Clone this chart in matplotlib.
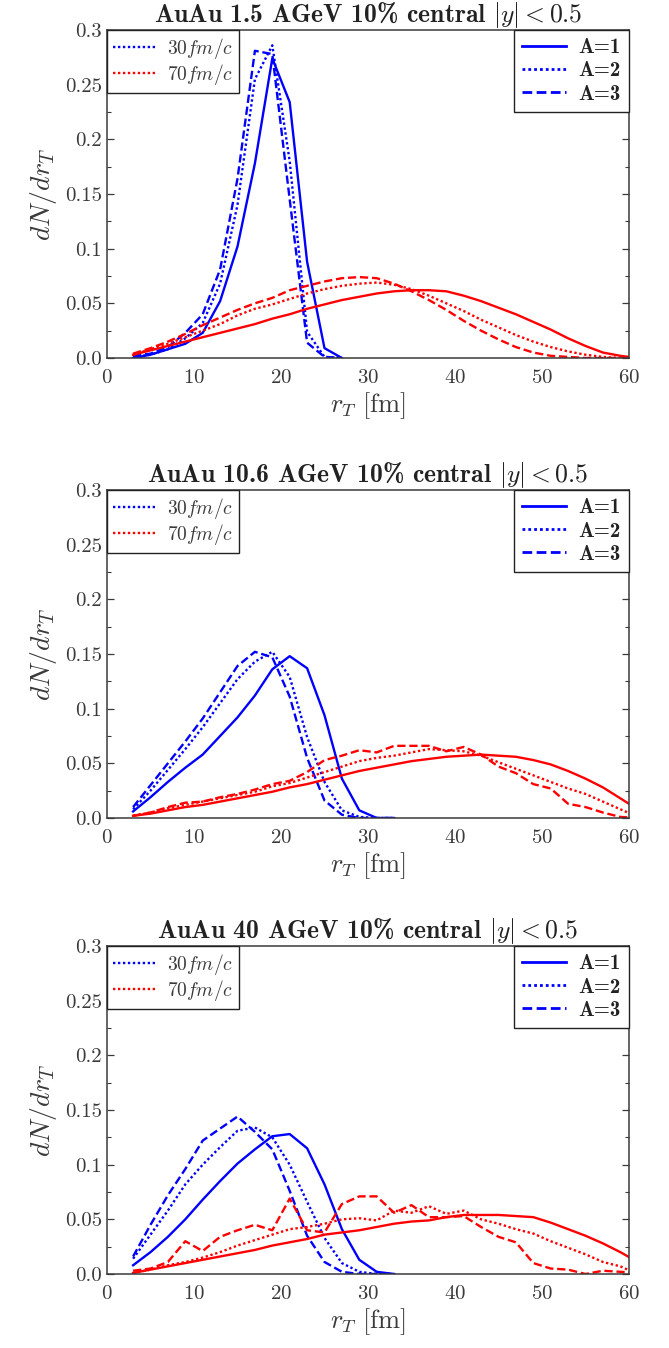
import matplotlib
matplotlib.use("Agg")
import matplotlib.pyplot as plt
from matplotlib.lines import Line2D
from matplotlib.ticker import MultipleLocator, FixedLocator, FixedFormatter

plt.rcParams["mathtext.fontset"] = "cm"
plt.rcParams["font.family"] = ["serif"]
plt.rcParams["font.serif"] = ["cmr10", "DejaVu Serif"]
plt.rcParams["axes.formatter.use_mathtext"] = True

# ---------------- data ----------------
titles = [
    r"AuAu 1.5 AGeV 10% central $|y|<0.5$",
    r"AuAu 10.6 AGeV 10% central $|y|<0.5$",
    r"AuAu 40 AGeV 10% central $|y|<0.5$",
]

# transverse radius bins [fm]
r_late = [3, 5, 7, 9, 11, 13, 15, 17, 19, 21, 23, 25, 27, 29, 31, 33, 35, 37,
          39, 41, 43, 45, 47, 49, 51, 53, 55, 57, 59, 61]
r_early_15 = [3, 5, 7, 9, 11, 13, 15, 17, 19, 21, 23, 25, 27]
r_early = [3, 5, 7, 9, 11, 13, 15, 17, 19, 21, 23, 25, 27, 29, 31, 33]

# AuAu 1.5 AGeV, 30 fm/c
e15_a1 = [0.000, 0.003, 0.008, 0.013, 0.023, 0.052, 0.102, 0.178, 0.274, 0.234, 0.088, 0.009, 0.000]
e15_a2 = [0.001, 0.003, 0.008, 0.018, 0.032, 0.068, 0.140, 0.255, 0.286, 0.180, 0.024, 0.001, 0.000]
e15_a3 = [0.002, 0.004, 0.010, 0.023, 0.040, 0.081, 0.164, 0.281, 0.278, 0.145, 0.014, 0.001, 0.000]
# AuAu 1.5 AGeV, 70 fm/c
l15_a1 = [0.003, 0.007, 0.011, 0.015, 0.019, 0.023, 0.027, 0.031, 0.036, 0.040, 0.045, 0.049, 0.053,
          0.056, 0.059, 0.061, 0.062, 0.062, 0.061, 0.057, 0.052, 0.046, 0.040, 0.033, 0.026, 0.018,
          0.011, 0.005, 0.002, 0.000]
l15_a2 = [0.003, 0.008, 0.013, 0.019, 0.025, 0.031, 0.039, 0.045, 0.049, 0.054, 0.059, 0.063, 0.066,
          0.068, 0.069, 0.067, 0.063, 0.057, 0.050, 0.043, 0.035, 0.028, 0.021, 0.015, 0.010, 0.006,
          0.003, 0.001, 0.000, 0.000]
l15_a3 = [0.004, 0.009, 0.015, 0.022, 0.030, 0.037, 0.044, 0.050, 0.055, 0.062, 0.066, 0.070, 0.073,
          0.074, 0.073, 0.068, 0.061, 0.053, 0.044, 0.034, 0.025, 0.017, 0.010, 0.005, 0.002, 0.001,
          0.000, 0.000, 0.000, 0.000]

# AuAu 10.6 AGeV, 30 fm/c
e106_a1 = [0.006, 0.019, 0.033, 0.046, 0.058, 0.075, 0.092, 0.112, 0.136, 0.148, 0.137, 0.094, 0.036, 0.007, 0.000, 0.000]
e106_a2 = [0.008, 0.025, 0.044, 0.063, 0.083, 0.105, 0.127, 0.143, 0.152, 0.129, 0.074, 0.033, 0.007, 0.001, 0.000, 0.000]
e106_a3 = [0.010, 0.030, 0.050, 0.070, 0.091, 0.115, 0.139, 0.152, 0.147, 0.111, 0.055, 0.016, 0.003, 0.000, 0.000, 0.000]
# AuAu 10.6 AGeV, 70 fm/c
l106_a1 = [0.002, 0.004, 0.007, 0.010, 0.012, 0.015, 0.018, 0.021, 0.024, 0.028, 0.031, 0.035, 0.039,
           0.043, 0.046, 0.049, 0.052, 0.054, 0.056, 0.057, 0.058, 0.057, 0.056, 0.053, 0.049, 0.043,
           0.036, 0.028, 0.018, 0.008]
l106_a2 = [0.002, 0.005, 0.009, 0.012, 0.015, 0.018, 0.021, 0.024, 0.029, 0.032, 0.037, 0.042, 0.047,
           0.052, 0.055, 0.057, 0.060, 0.063, 0.062, 0.061, 0.057, 0.051, 0.045, 0.039, 0.033, 0.027,
           0.022, 0.015, 0.008, 0.001]
l106_a3 = [0.002, 0.005, 0.010, 0.014, 0.015, 0.019, 0.022, 0.026, 0.031, 0.034, 0.042, 0.053, 0.057,
           0.062, 0.060, 0.066, 0.066, 0.066, 0.061, 0.065, 0.058, 0.047, 0.041, 0.031, 0.027, 0.013,
           0.010, 0.005, 0.001, 0.000]

# AuAu 40 AGeV, 30 fm/c
e40_a1 = [0.008, 0.020, 0.034, 0.050, 0.068, 0.085, 0.101, 0.114, 0.126, 0.128, 0.115, 0.082, 0.041, 0.013, 0.002, 0.000]
e40_a2 = [0.014, 0.036, 0.058, 0.082, 0.100, 0.116, 0.131, 0.134, 0.125, 0.100, 0.066, 0.033, 0.010, 0.002, 0.000, 0.000]
e40_a3 = [0.016, 0.045, 0.072, 0.096, 0.122, 0.133, 0.144, 0.130, 0.114, 0.076, 0.035, 0.011, 0.002, 0.000, 0.000, 0.000]
# AuAu 40 AGeV, 70 fm/c
l40_a1 = [0.001, 0.004, 0.007, 0.010, 0.013, 0.016, 0.019, 0.022, 0.026, 0.029, 0.032, 0.036, 0.038,
          0.040, 0.043, 0.046, 0.048, 0.049, 0.052, 0.054, 0.054, 0.054, 0.053, 0.052, 0.047, 0.041,
          0.035, 0.028, 0.020, 0.011]
l40_a2 = [0.001, 0.004, 0.008, 0.011, 0.015, 0.020, 0.026, 0.031, 0.036, 0.041, 0.043, 0.046, 0.050,
          0.051, 0.049, 0.058, 0.056, 0.062, 0.055, 0.058, 0.050, 0.046, 0.041, 0.037, 0.030, 0.024,
          0.018, 0.011, 0.007, 0.000]
l40_a3 = [0.003, 0.005, 0.011, 0.030, 0.021, 0.034, 0.040, 0.045, 0.040, 0.069, 0.040, 0.038, 0.064,
          0.071, 0.071, 0.056, 0.063, 0.052, 0.052, 0.053, 0.043, 0.034, 0.029, 0.010, 0.005, 0.004,
          0.000, 0.003, 0.002, 0.001]

panels = [
    (r_early_15, [e15_a1, e15_a2, e15_a3], [l15_a1, l15_a2, l15_a3]),
    (r_early, [e106_a1, e106_a2, e106_a3], [l106_a1, l106_a2, l106_a3]),
    (r_early, [e40_a1, e40_a2, e40_a3], [l40_a1, l40_a2, l40_a3]),
]

y_ticks = [0.0, 0.05, 0.1, 0.15, 0.2, 0.25, 0.3]
y_ticklabels = ["0.0", "0.05", "0.1", "0.15", "0.2", "0.25", "0.3"]
x_ticks = [0, 10, 20, 30, 40, 50, 60]
time_labels = [r"$30fm/c$", r"$70fm/c$"]
mass_labels = ["A=1", "A=2", "A=3"]

# ---------------- figure ----------------
W, H = 669, 1348
fig = plt.figure(figsize=(W / 100, H / 100), dpi=100)

styles = ["-", (0, (1, 1.1)), (0, (3.5, 1.6))]
BLUE, RED = "#0000ff", "#ff0000"
GRAY = "#3a3a3a"
DARK = "#222222"
lw = 1.7

tops = [30, 490, 946]
ax_left, ax_right = 107, 629
ax_h = 328

for (r_e, early, late), title, top in zip(panels, titles, tops):
    ax = fig.add_axes([ax_left / W, 1 - (top + ax_h) / H,
                       (ax_right - ax_left) / W, ax_h / H])
    for y, ls in zip(early, styles):
        ax.plot(r_e, y, color=BLUE, ls=ls, lw=lw)
    for y, ls in zip(late, styles):
        ax.plot(r_late, y, color=RED, ls=ls, lw=lw)

    ax.set_xlim(0, 60)
    ax.set_ylim(0, 0.3)
    ax.xaxis.set_major_locator(FixedLocator(x_ticks))
    ax.yaxis.set_major_locator(FixedLocator(y_ticks))
    ax.yaxis.set_major_formatter(FixedFormatter(y_ticklabels))
    ax.yaxis.set_minor_locator(MultipleLocator(0.025))
    ax.tick_params(axis="y", which="both", direction="in", left=True, right=True,
                   color=GRAY, labelsize=15, labelcolor=GRAY)
    ax.tick_params(axis="y", which="major", length=5, width=0.9)
    ax.tick_params(axis="y", which="minor", length=3, width=0.8)
    ax.tick_params(axis="x", which="both", length=0, labelsize=15,
                   labelcolor=GRAY, pad=8)
    for s in ax.spines.values():
        s.set_color(GRAY)
        s.set_linewidth(1.1)

    ax.set_title(title, fontsize=18.5, color=DARK, pad=5, fontfamily="cmb10")
    ax.set_xlabel(r"$r_T\ [\mathrm{fm}]$", fontsize=19, color=GRAY, labelpad=2)
    ax.set_ylabel(r"$dN/dr_T$", fontsize=20, color=GRAY, labelpad=4)

    h_time = [Line2D([], [], color=BLUE, ls=styles[1], lw=lw),
              Line2D([], [], color=RED, ls=styles[1], lw=lw)]
    leg1 = ax.legend(h_time, time_labels, loc="upper left", fontsize=14,
                     frameon=True, fancybox=False, framealpha=1,
                     edgecolor=DARK, borderaxespad=0, handlelength=2.2,
                     handletextpad=0.6, labelspacing=0.05, borderpad=0.3)
    leg1.get_frame().set_linewidth(1.0)
    for t in leg1.get_texts():
        t.set_color(GRAY)
    ax.add_artist(leg1)

    h_mass = [Line2D([], [], color=BLUE, ls=ls, lw=lw + 0.3) for ls in styles]
    leg2 = ax.legend(h_mass, mass_labels, loc="upper right",
                     prop={"family": "cmb10", "size": 15},
                     frameon=True, fancybox=False, framealpha=1,
                     edgecolor=DARK, borderaxespad=0, handlelength=2.1,
                     handletextpad=0.6, labelspacing=0.2, borderpad=0.4)
    leg2.get_frame().set_linewidth(1.0)
    for t in leg2.get_texts():
        t.set_color(DARK)

fig.savefig("out.png", dpi=100)
